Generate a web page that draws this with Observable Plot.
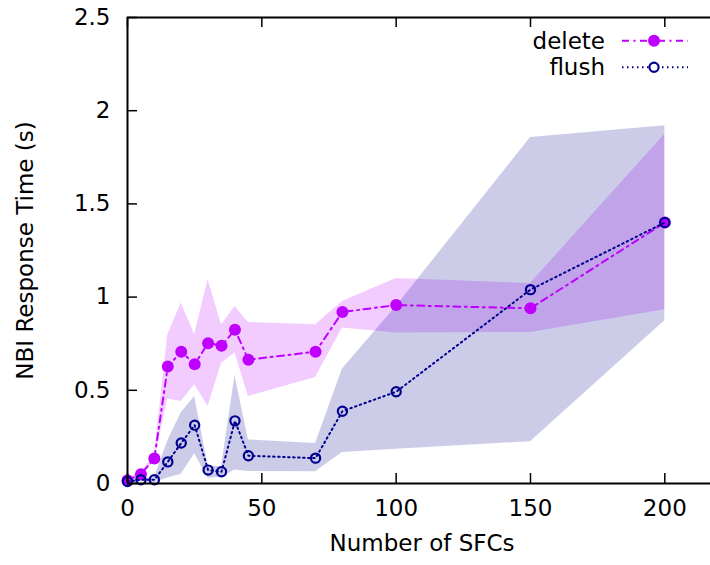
<!DOCTYPE html>
<html><head><meta charset="utf-8">
<script src="https://cdn.jsdelivr.net/npm/d3@7"></script>
<script src="https://cdn.jsdelivr.net/npm/@observablehq/plot@0.6"></script>
<style>
body{margin:0;background:#fff;}
#wrap{position:relative;width:710px;height:565px;overflow:hidden;}
#wrap svg{font-family:"DejaVu Sans";}
#legend{position:absolute;left:0;top:0;}
</style>
</head><body><div id="wrap"></div>
<script>
// Data
const sfcs = [0, 5, 10, 15, 20, 25, 30, 35, 40, 45, 70, 80, 100, 150, 200];
const deleteMean = [0.018, 0.05, 0.134, 0.628, 0.707, 0.64, 0.753, 0.739, 0.825, 0.664, 0.707, 0.92, 0.957, 0.94, 1.40];
const deleteLow  = [0.01, 0.04, 0.12, 0.453, 0.44, 0.53, 0.413, 0.645, 0.70, 0.467, 0.569, 0.834, 0.807, 0.81, 0.932];
const deleteHigh = [0.025, 0.06, 0.15, 0.798, 0.968, 0.80, 1.095, 0.85, 0.95, 0.864, 0.851, 0.976, 1.10, 1.073, 1.874];
const flushMean = [0.011, 0.02, 0.02, 0.116, 0.217, 0.313, 0.072, 0.063, 0.336, 0.149, 0.136, 0.388, 0.492, 1.04, 1.40];
const flushLow  = [0.005, 0.008, 0.005, 0.03, 0.05, 0.16, 0.028, 0.034, 0.072, 0.064, 0.063, 0.166, 0.184, 0.224, 0.873];
const flushHigh = [0.02, 0.03, 0.03, 0.23, 0.38, 0.467, 0.095, 0.09, 0.58, 0.234, 0.215, 0.614, 0.95, 1.856, 1.919];
const xTicks = [0, 50, 100, 150, 200];
const yTicks = [0, 0.5, 1, 1.5, 2, 2.5];
const seriesNames = ["delete", "flush"];
const xTitle = "Number of SFCs";
const yTitle = "NBI Response Time (s)";

const C1 = "#c000ff", C2 = "#000090";
const del = sfcs.map((x, i) => ({x, m: deleteMean[i], lo: deleteLow[i], hi: deleteHigh[i]}));
const fl = sfcs.map((x, i) => ({x, m: flushMean[i], lo: flushLow[i], hi: flushHigh[i]}));

const W = 710, H = 565, mL = 127, mT = 17, mB = 82, mR = 0;
const innerH = H - mT - mB, innerW = W - mL - mR;
const FS = 23;

const chart = Plot.plot({
  width: W, height: H,
  marginLeft: mL, marginTop: mT, marginBottom: mB, marginRight: mR,
  style: {fontFamily: "DejaVu Sans", fontSize: FS + "px", color: "#000", background: "white", overflow: "visible"},
  x: {domain: [0, 217]},
  y: {domain: [0, 2.5]},
  marks: [
    Plot.areaY(del, {x: "x", y1: "lo", y2: "hi", fill: C1, fillOpacity: 0.2}),
    Plot.areaY(fl, {x: "x", y1: "lo", y2: "hi", fill: C2, fillOpacity: 0.2}),
    Plot.line(del, {x: "x", y: "m", stroke: C1, strokeWidth: 2, strokeDasharray: "7,4.5,2,4.5"}),
    Plot.dot(del, {x: "x", y: "m", r: 6, fill: C1}),
    Plot.line(fl, {x: "x", y: "m", stroke: C2, strokeWidth: 2, strokeDasharray: "1.5,3.5"}),
    Plot.dot(fl, {x: "x", y: "m", r: 4.6, stroke: C2, strokeWidth: 2.2, fill: "none"}),
    // inward ticks
    Plot.ruleX(xTicks, {x: d => d, insetTop: innerH - 10, stroke: "black", strokeWidth: 1.5}),
    Plot.ruleX(xTicks, {x: d => d, insetBottom: innerH - 10, stroke: "black", strokeWidth: 1.5}),
    Plot.ruleY(yTicks, {y: d => d, insetRight: innerW - 10, stroke: "black", strokeWidth: 1.5}),
    // frame (right side lies outside the picture)
    Plot.ruleY([0, 2.5], {y: d => d, stroke: "black", strokeWidth: 2}),
    Plot.ruleX([0], {x: d => d, stroke: "black", strokeWidth: 2}),
    Plot.axisX({ticks: xTicks, tickSize: 0, tickPadding: 16, label: null, tickFormat: d => String(d)}),
    Plot.axisY({ticks: yTicks, tickSize: 0, tickPadding: 17, label: null, tickFormat: d => String(d)}),
    Plot.text([xTitle], {text: d => d, frameAnchor: "bottom", textAnchor: "middle", dx: 3, dy: 67, fontSize: FS, fill: "black"}),
    Plot.text([yTitle], {text: d => d, frameAnchor: "left", textAnchor: "middle", rotate: -90, dx: -102, dy: 0, fontSize: FS, fill: "black"})
  ]
});
const wrap = document.getElementById("wrap");
wrap.appendChild(chart);

// Legend (top-right, inside the frame)
const ns = "http://www.w3.org/2000/svg";
const lg = document.createElementNS(ns, "svg");
lg.setAttribute("id", "legend");
lg.setAttribute("width", W); lg.setAttribute("height", 90);
const entries = [
  {name: seriesNames[0], color: C1, dash: "7,4.5,2,4.5", filled: true, y: 40.7},
  {name: seriesNames[1], color: C2, dash: "1.5,3.5", filled: false, y: 67.3}
];
for (const e of entries) {
  const t = document.createElementNS(ns, "text");
  t.setAttribute("x", 605); t.setAttribute("y", e.y + 7.8);
  t.setAttribute("text-anchor", "end");
  t.setAttribute("font-size", FS); t.setAttribute("font-family", "DejaVu Sans");
  t.textContent = e.name;
  lg.appendChild(t);
  const l = document.createElementNS(ns, "line");
  l.setAttribute("x1", 622); l.setAttribute("x2", 688);
  l.setAttribute("y1", e.y); l.setAttribute("y2", e.y);
  l.setAttribute("stroke", e.color); l.setAttribute("stroke-width", 2);
  l.setAttribute("stroke-dasharray", e.dash);
  lg.appendChild(l);
  const c = document.createElementNS(ns, "circle");
  c.setAttribute("cx", 654); c.setAttribute("cy", e.y);
  if (e.filled) { c.setAttribute("r", 6); c.setAttribute("fill", e.color); }
  else { c.setAttribute("r", 4.6); c.setAttribute("fill", "white"); c.setAttribute("stroke", e.color); c.setAttribute("stroke-width", 2.2); }
  lg.appendChild(c);
}
wrap.appendChild(lg);
</script>
</body></html>
